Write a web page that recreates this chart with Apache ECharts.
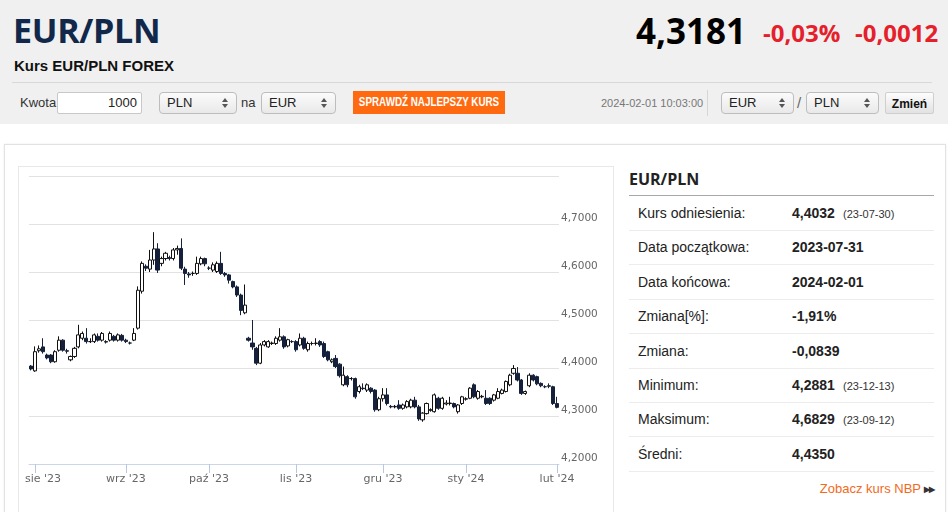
<!DOCTYPE html>
<html lang="pl">
<head>
<meta charset="utf-8">
<title>Kurs EUR/PLN FOREX</title>
<script src="https://cdn.jsdelivr.net/npm/echarts@6/dist/echarts.min.js"></script>
<style>
  html, body { margin: 0; padding: 0; }
  body { width: 948px; height: 512px; overflow: hidden; position: relative; background: #fff;
         font-family: "Liberation Sans", Arial, sans-serif; color: #222; }
  .abs { position: absolute; white-space: nowrap; }
  #top { position: absolute; left: 0; top: 0; width: 948px; height: 124px; background: #f0f0f0; }
  #title { left: 13px; top: 6px; font: 700 34px/48px "Open Sans", sans-serif; letter-spacing: -0.3px; color: #11284a; }
  #subtitle { left: 14px; top: 57px; font: 700 15px/18px "Liberation Sans", Arial, sans-serif; color: #111; }
  #rate { right: 202px; top: 7px; font: 700 35px/48px "Open Sans", sans-serif; color: #000; }
  .chg { top: 13px; font: 700 24px/40px "Open Sans", sans-serif; color: #e5202b; }
  #hr { left: 12px; top: 82px; width: 920px; height: 1px; background: #d8d8d8; }
  .lbl { font-size: 13px; line-height: 22px; top: 92px; color: #333; }
  .inp { top: 92px; height: 20px; border: 1px solid #c8c8c8; border-radius: 2px; background: #fff;
         font-size: 13px; line-height: 20px; text-align: right; padding-right: 4px; box-sizing: content-box; }
  .sel { top: 92px; height: 20px; border: 1px solid #bdbdbd; border-radius: 4px;
         background: linear-gradient(#fbfbfb, #e9e9e9); font-size: 13px; line-height: 20px; box-sizing: content-box; }
  .sel span.t { position: absolute; left: 7px; top: 0; }
  .sel .up, .sel .dn { position: absolute; right: 8px; width: 0; height: 0;
         border-left: 3px solid transparent; border-right: 3px solid transparent; }
  .sel .up { top: 5px; border-bottom: 4px solid #555; }
  .sel .dn { top: 11px; border-top: 4px solid #555; }
  #btn { left: 353px; top: 91px; width: 152px; height: 23px; background: #ff6a10; color: #fff; overflow: hidden; }
  #btn span { position: absolute; left: 76px; top: 0; font: 700 12px/23px "Liberation Sans", Arial, sans-serif;
              transform: translateX(-50%) scaleX(0.82); transform-origin: center; }
  #stamp { left: 601px; top: 92px; font-size: 11px; line-height: 22px; color: #777; }
  #vsep { left: 707px; top: 90px; width: 1px; height: 26px; background: #d6d6d6; }
  #zmien { left: 885px; top: 92px; width: 49px; height: 22px; border: 1px solid #cfcfcf; border-radius: 2px;
           background: linear-gradient(#fdfdfd, #e2e2e2); font: 700 12px/22px "Liberation Sans", Arial, sans-serif;
           text-align: center; color: #111; box-sizing: border-box; }
  #panel { left: 4px; top: 144px; width: 940px; height: 400px; border: 1px solid #e2e2e2;
           box-shadow: 0 0 2px #ececec; }
  #chartBox { left: 18px; top: 166px; width: 594px; height: 380px; border: 1px solid #e8e8e8; }
  #chart { position: absolute; left: 18px; top: 166px; width: 595px; height: 346px; }
  #statHead { left: 629px; top: 166px; font: 700 16px/26px "Open Sans", sans-serif; color: #222; }
  #statLine { left: 629px; top: 195px; width: 305px; height: 1px; background: #a8a8a8; }
  .row { left: 629px; width: 305px; height: 34px; border-bottom: 1px solid #ececec; }
  .row .k { position: absolute; left: 9px; top: 0; font-size: 14px; line-height: 34px; color: #222; }
  .row .v { position: absolute; left: 163px; top: 0; font-size: 14px; line-height: 34px; font-weight: 700; color: #222; }
  .row .d { position: absolute; left: 214px; top: 1px; font-size: 11px; line-height: 34px; color: #333; }
  #nbp { right: 14px; top: 479px; font-size: 13px; line-height: 20px; color: #f26a1b; }
  #nbp b { font-size: 8px; color: #333; vertical-align: 1px; letter-spacing: -1px; margin-left: 3px; }
</style>
</head>
<body>
<div id="top"></div>
<div id="title" class="abs">EUR/PLN</div>
<div id="subtitle" class="abs">Kurs EUR/PLN FOREX</div>
<div id="rate" class="abs">4,3181</div>
<div class="abs chg" style="left:763px">-0,03%</div>
<div class="abs chg" style="left:855px">-0,0012</div>
<div id="hr" class="abs"></div>

<div class="abs lbl" style="left:20px">Kwota</div>
<div class="abs inp" style="left:57px;width:79px">1000</div>
<div class="abs sel" style="left:159px;width:76px"><span class="t">PLN</span><i class="up"></i><i class="dn"></i></div>
<div class="abs lbl" style="left:241px">na</div>
<div class="abs sel" style="left:261px;width:73px"><span class="t">EUR</span><i class="up"></i><i class="dn"></i></div>
<div id="btn" class="abs"><span>SPRAWDŹ NAJLEPSZY KURS</span></div>
<div id="stamp" class="abs">2024-02-01 10:03:00</div>
<div id="vsep" class="abs"></div>
<div class="abs sel" style="left:721px;width:71px"><span class="t">EUR</span><i class="up"></i><i class="dn"></i></div>
<div class="abs lbl" style="left:797px;font-size:15px;color:#666">/</div>
<div class="abs sel" style="left:806px;width:71px"><span class="t">PLN</span><i class="up"></i><i class="dn"></i></div>
<div id="zmien" class="abs">Zmień</div>

<div id="panel" class="abs"></div>
<div id="chartBox" class="abs"></div>
<div id="chart"></div>

<div id="statHead" class="abs">EUR/PLN</div>
<div id="statLine" class="abs"></div>
<div id="stats"></div>
<div id="nbp" class="abs">Zobacz kurs NBP<b>&#9654;&#9654;</b></div>

<script>
// dni notowań: od 2023-07-31 do 2024-02-01 (pn-pt)
const startDay = '2023-07-31';
const endDay = '2024-02-01';
const monthNames = ['sty', 'lut', 'mar', 'kwi', 'maj', 'cze', 'lip', 'sie', 'wrz', 'paź', 'lis', 'gru'];

const yTicks = [4.2, 4.3, 4.4, 4.5, 4.6, 4.7, 4.8];

const openV = [
  4.404, 4.394, 4.436, 4.444, 4.427, 4.427, 4.413, 4.437, 4.458, 4.436,
  4.417, 4.424, 4.444, 4.462, 4.462, 4.455, 4.455, 4.466, 4.458, 4.455,
  4.458, 4.466, 4.458, 4.468, 4.458, 4.452, 4.458, 4.483, 4.560, 4.612,
  4.606, 4.625, 4.648, 4.618, 4.628, 4.630, 4.628, 4.646, 4.649, 4.606,
  4.596, 4.597, 4.597, 4.617, 4.628, 4.608, 4.604, 4.601, 4.618, 4.597,
  4.594, 4.580, 4.569, 4.552, 4.515, 4.462, 4.452, 4.441, 4.410, 4.448,
  4.444, 4.451, 4.451, 4.458, 4.465, 4.446, 4.455, 4.455, 4.448, 4.462,
  4.438, 4.451, 4.451, 4.455, 4.451, 4.434, 4.413, 4.420, 4.408, 4.365,
  4.382, 4.378, 4.378, 4.351, 4.358, 4.354, 4.358, 4.354, 4.313, 4.336,
  4.344, 4.320, 4.319, 4.323, 4.316, 4.319, 4.319, 4.333, 4.319, 4.292,
  4.305, 4.312, 4.309, 4.337, 4.316, 4.325, 4.326, 4.326, 4.309, 4.326,
  4.335, 4.337, 4.365, 4.337, 4.340, 4.337, 4.337, 4.333, 4.337, 4.347,
  4.351, 4.365, 4.389, 4.389, 4.375, 4.347, 4.363, 4.385, 4.382, 4.368,
  4.361, 4.363, 4.361, 4.326
];
const closeV = [
  4.398, 4.434, 4.440, 4.434, 4.421, 4.413, 4.434, 4.458, 4.437, 4.435,
  4.424, 4.441, 4.469, 4.472, 4.455, 4.455, 4.469, 4.458, 4.472, 4.454,
  4.472, 4.458, 4.469, 4.458, 4.455, 4.452, 4.472, 4.562, 4.618, 4.608,
  4.625, 4.648, 4.604, 4.628, 4.639, 4.628, 4.646, 4.649, 4.608, 4.597,
  4.594, 4.597, 4.618, 4.628, 4.617, 4.608, 4.615, 4.618, 4.597, 4.594,
  4.583, 4.569, 4.552, 4.520, 4.531, 4.458, 4.444, 4.410, 4.448, 4.455,
  4.455, 4.452, 4.462, 4.465, 4.444, 4.459, 4.455, 4.438, 4.462, 4.441,
  4.451, 4.451, 4.452, 4.448, 4.424, 4.417, 4.417, 4.403, 4.384, 4.385,
  4.365, 4.378, 4.340, 4.361, 4.357, 4.365, 4.351, 4.313, 4.336, 4.344,
  4.326, 4.319, 4.320, 4.316, 4.323, 4.330, 4.333, 4.319, 4.294, 4.306,
  4.326, 4.313, 4.344, 4.316, 4.337, 4.327, 4.327, 4.319, 4.323, 4.340,
  4.336, 4.358, 4.340, 4.351, 4.341, 4.326, 4.326, 4.344, 4.351, 4.354,
  4.372, 4.385, 4.399, 4.375, 4.347, 4.351, 4.385, 4.375, 4.367, 4.363,
  4.361, 4.362, 4.326, 4.318
];
const lowV = [
  4.395, 4.392, 4.432, 4.430, 4.418, 4.410, 4.411, 4.434, 4.434, 4.430,
  4.414, 4.421, 4.441, 4.458, 4.451, 4.452, 4.452, 4.455, 4.455, 4.451,
  4.455, 4.455, 4.455, 4.455, 4.452, 4.449, 4.456, 4.480, 4.555, 4.602,
  4.600, 4.615, 4.598, 4.612, 4.624, 4.624, 4.624, 4.636, 4.604, 4.573,
  4.588, 4.592, 4.594, 4.614, 4.612, 4.604, 4.600, 4.598, 4.594, 4.590,
  4.576, 4.566, 4.548, 4.510, 4.512, 4.455, 4.438, 4.406, 4.408, 4.445,
  4.442, 4.448, 4.448, 4.455, 4.440, 4.443, 4.452, 4.434, 4.445, 4.438,
  4.434, 4.447, 4.447, 4.444, 4.421, 4.414, 4.410, 4.400, 4.380, 4.362,
  4.360, 4.374, 4.336, 4.347, 4.354, 4.350, 4.347, 4.309, 4.310, 4.330,
  4.322, 4.316, 4.316, 4.313, 4.313, 4.316, 4.316, 4.316, 4.290, 4.288,
  4.303, 4.309, 4.307, 4.313, 4.313, 4.322, 4.322, 4.316, 4.305, 4.323,
  4.332, 4.335, 4.337, 4.334, 4.337, 4.323, 4.323, 4.330, 4.335, 4.345,
  4.349, 4.362, 4.386, 4.372, 4.344, 4.344, 4.360, 4.372, 4.364, 4.360,
  4.358, 4.358, 4.323, 4.316
];
const highV = [
  4.406, 4.445, 4.447, 4.462, 4.430, 4.429, 4.437, 4.466, 4.460, 4.440,
  4.426, 4.444, 4.490, 4.476, 4.483, 4.462, 4.472, 4.472, 4.475, 4.458,
  4.476, 4.469, 4.472, 4.471, 4.461, 4.455, 4.483, 4.570, 4.622, 4.616,
  4.646, 4.683, 4.660, 4.632, 4.642, 4.634, 4.650, 4.655, 4.670, 4.611,
  4.600, 4.601, 4.632, 4.632, 4.630, 4.612, 4.620, 4.622, 4.642, 4.600,
  4.596, 4.582, 4.572, 4.555, 4.574, 4.465, 4.500, 4.444, 4.452, 4.458,
  4.458, 4.455, 4.466, 4.483, 4.468, 4.461, 4.458, 4.458, 4.472, 4.465,
  4.455, 4.455, 4.462, 4.458, 4.455, 4.436, 4.420, 4.427, 4.410, 4.403,
  4.385, 4.381, 4.380, 4.365, 4.368, 4.368, 4.360, 4.356, 4.340, 4.358,
  4.358, 4.323, 4.323, 4.333, 4.326, 4.333, 4.336, 4.340, 4.323, 4.308,
  4.328, 4.316, 4.347, 4.340, 4.340, 4.333, 4.340, 4.328, 4.325, 4.342,
  4.339, 4.360, 4.368, 4.354, 4.344, 4.354, 4.339, 4.346, 4.358, 4.357,
  4.374, 4.388, 4.406, 4.402, 4.377, 4.353, 4.389, 4.387, 4.384, 4.370,
  4.364, 4.368, 4.363, 4.340
];

// tabela po prawej
const statLabels = ['Kurs odniesienia:', 'Data początkowa:', 'Data końcowa:', 'Zmiana[%]:',
                    'Zmiana:', 'Minimum:', 'Maksimum:', 'Średni:'];
const statValues = ['4,4032', '2023-07-31', '2024-02-01', '-1,91%', '-0,0839', '4,2881', '4,6829', '4,4350'];
const statDates = ['(23-07-30)', '', '', '', '', '(23-12-13)', '(23-09-12)', ''];

// kategorie osi X - tylko dni robocze
function buildDays(from, to) {
    const out = [];
    const d = new Date(from + 'T12:00:00Z');
    const last = new Date(to + 'T12:00:00Z');
    while (d <= last) {
        const wd = d.getUTCDay();
        if (wd !== 0 && wd !== 6) out.push(d.toISOString().slice(0, 10));
        d.setUTCDate(d.getUTCDate() + 1);
    }
    return out;
}
const days = buildDays(startDay, endDay);

function monthStart(idx) {
    return idx > 0 && days[idx].slice(0, 7) !== days[idx - 1].slice(0, 7);
}

// wiersze tabeli
const statsBox = document.getElementById('stats');
statLabels.forEach((label, i) => {
    const row = document.createElement('div');
    row.className = 'abs row';
    row.style.top = (196 + i * 34.4) + 'px';
    row.innerHTML = '<span class="k">' + label + '</span><span class="v">' + statValues[i] + '</span>' +
        (statDates[i] ? '<span class="d">' + statDates[i] + '</span>' : '');
    statsBox.appendChild(row);
});

const candles = openV.map((o, i) => [o, closeV[i], lowV[i], highV[i]]);

const chart = echarts.init(document.getElementById('chart'), null, { renderer: 'canvas' });
chart.setOption({
    animation: false,
    grid: { left: 11, right: 54, top: 10, bottom: 48 },
    xAxis: {
        type: 'category',
        data: days,
        boundaryGap: true,
        axisLine: { lineStyle: { color: '#ccd6eb', width: 1 } },
        axisTick: { show: true, length: 9, alignWithLabel: true, interval: monthStart,
                    lineStyle: { color: '#b9c7e2', width: 1 } },
        axisLabel: {
            interval: monthStart,
            margin: 10,
            color: '#666',
            fontFamily: 'DejaVu Sans',
            fontSize: 11,
            // pierwsza etykieta przesunięta do środka, jak w oryginale
            formatter: (v, idx) => {
                const txt = monthNames[+v.slice(5, 7) - 1] + " '" + v.slice(2, 4);
                return idx === 1 ? '{first|' + txt + '}' : txt;
            },
            rich: { first: { padding: [0, 0, 0, 16], color: '#666', fontFamily: 'DejaVu Sans', fontSize: 11 } }
        },
        splitLine: { show: false }
    },
    yAxis: {
        type: 'value',
        position: 'right',
        min: yTicks[0],
        max: yTicks[yTicks.length - 1],
        interval: 0.1,
        axisLine: { show: false },
        axisTick: { show: false },
        axisLabel: {
            showMaxLabel: false,
            margin: 2,
            color: '#666',
            fontFamily: 'DejaVu Sans',
            fontSize: 10.5,
            verticalAlign: 'bottom',
            formatter: v => v.toFixed(4).replace('.', ',')
        },
        splitLine: { lineStyle: { color: '#e2e2e2', width: 1 } }
    },
    series: [{
        type: 'candlestick',
        data: candles,
        barWidth: 3.6,
        itemStyle: {
            color: '#ffffff',
            color0: '#15213a',
            borderColor: '#111111',
            borderColor0: '#15213a',
            borderWidth: 1
        }
    }]
});
</script>
</body>
</html>
